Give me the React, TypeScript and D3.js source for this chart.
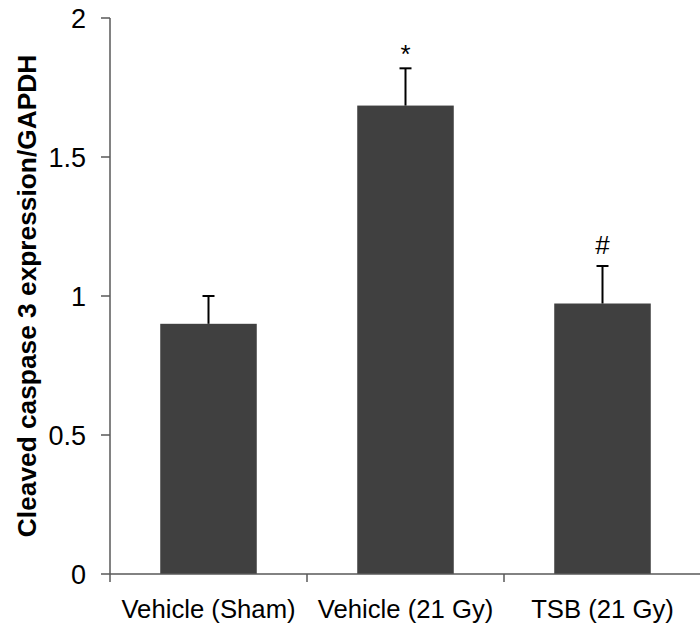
import * as d3 from "d3";

const categories = ["Vehicle (Sham)", "Vehicle (21 Gy)", "TSB (21 Gy)"];
const means = [0.9, 1.685, 0.973];
const errors = [0.1, 0.134, 0.135];
const marks = ["", "*", "#"];
const yTicks = [0, 0.5, 1, 1.5, 2];

const W = 700;
const H = 623;
const font = "'Liberation Sans', Arial, sans-serif";

export default function App() {
  const x = d3
    .scaleBand<string>()
    .domain(categories)
    .range([110, 701])
    .paddingInner(0.51)
    .paddingOuter(0.255);
  const y = d3.scaleLinear().domain([0, 2]).range([574, 18]);
  const step = x.step();
  const left = x.range()[0];
  const axisColor = "#595959";

  return (
    <svg
      width={W}
      height={H}
      style={{ position: "absolute", left: 0, top: 0, background: "#fff" }}
      fontFamily={font}
    >
      {/* bars */}
      {categories.map((c, i) => (
        <rect
          key={c}
          x={x(c)}
          y={y(means[i])}
          width={x.bandwidth()}
          height={y(0) - y(means[i])}
          fill="#404040"
        />
      ))}
      {/* error bars */}
      {categories.map((c, i) => {
        const cx = (x(c) as number) + x.bandwidth() / 2;
        const top = y(means[i] + errors[i]);
        return (
          <g key={c} stroke="#000" strokeWidth={2}>
            <line x1={cx} x2={cx} y1={y(means[i])} y2={top} />
            <line x1={cx - 6} x2={cx + 6} y1={top} y2={top} />
          </g>
        );
      })}
      {/* significance marks */}
      {categories.map((c, i) =>
        marks[i] ? (
          <text
            key={c}
            x={(x(c) as number) + x.bandwidth() / 2}
            y={y(means[i] + errors[i]) - (marks[i] === "*" ? 5 : 12)}
            textAnchor="middle"
            fontSize={26}
            fill="#000"
          >
            {marks[i]}
          </text>
        ) : null
      )}
      {/* y axis */}
      <line x1={110} x2={110} y1={y(2)} y2={y(0)} stroke={axisColor} strokeWidth={1.5} />
      {yTicks.map((t) => (
        <g key={t}>
          <line x1={101} x2={110} y1={y(t)} y2={y(t)} stroke={axisColor} strokeWidth={1.5} />
          <text x={86} y={y(t)} dy="0.36em" textAnchor="end" fontSize={27} fill="#000">
            {t}
          </text>
        </g>
      ))}
      {/* x axis */}
      <line x1={110} x2={701} y1={y(0)} y2={y(0)} stroke={axisColor} strokeWidth={1.5} />
      {d3.range(categories.length + 1).map((k) => (
        <line
          key={k}
          x1={left + k * step}
          x2={left + k * step}
          y1={y(0)}
          y2={y(0) + 8}
          stroke={axisColor}
          strokeWidth={1.5}
        />
      ))}
      {categories.map((c) => (
        <text
          key={c}
          x={(x(c) as number) + x.bandwidth() / 2}
          y={618}
          textAnchor="middle"
          fontSize={25.7}
          fill="#000"
        >
          {c}
        </text>
      ))}
      {/* y label */}
      <text
        transform={`translate(36, ${y(1)}) rotate(-90)`}
        textAnchor="middle"
        fontSize={26.3}
        fontWeight="bold"
        fill="#000"
      >
        Cleaved caspase 3 expression/GAPDH
      </text>
    </svg>
  );
}
